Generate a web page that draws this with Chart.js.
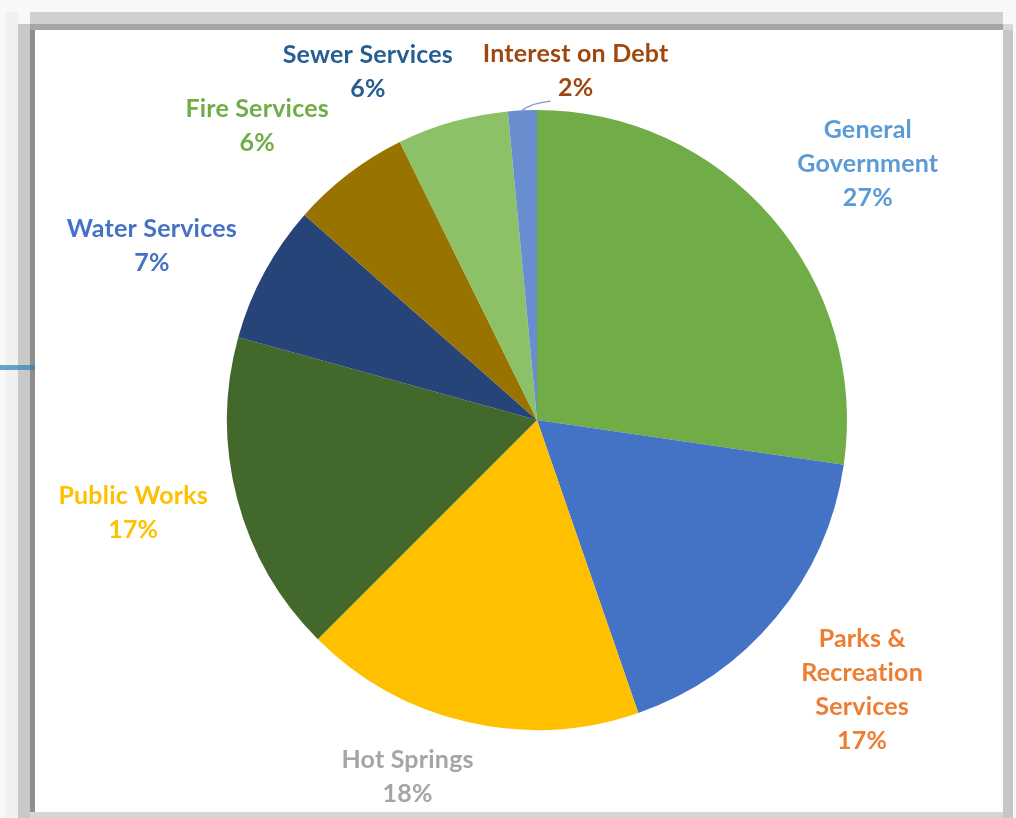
<!DOCTYPE html>
<html>
<head>
<meta charset="utf-8">
<title>Expenditures by Function</title>
<script src="https://cdn.jsdelivr.net/npm/chart.js"></script>
<style>
  body { margin: 0; width: 1016px; height: 818px; overflow: hidden; position: relative; background: #f8f8f8; }
  .band { position: absolute; }
  #panel { position: absolute; left: 35px; top: 30px; width: 968px; height: 782px; background: #fff; }
  #chartWrap { position: absolute; left: 0; top: 0; width: 1016px; height: 818px; }
</style>
</head>
<body>
<!-- frame around the chart panel -->
<div class="band" style="left:6px;top:12px;width:12px;height:806px;background:#f0f0f0"></div>
<div class="band" style="left:18px;top:24px;width:12px;height:794px;background:#c9c9c9"></div>
<div class="band" style="left:30px;top:12px;width:973px;height:12px;background:#d0d0d0"></div>
<div class="band" style="left:30px;top:24px;width:973px;height:6px;background:#a6a6a6"></div>
<div class="band" style="left:30px;top:30px;width:5px;height:782px;background:#8e8e8e"></div>
<div class="band" style="left:1003px;top:24px;width:10px;height:6px;background:#d8d8d8"></div>
<div class="band" style="left:1003px;top:30px;width:10px;height:788px;background:#c6c6c6"></div>
<div class="band" style="left:30px;top:812px;width:973px;height:6px;background:#d6d6d6"></div>
<div class="band" style="left:0;top:365px;width:35px;height:5px;background:rgba(50,130,180,0.72)"></div>
<div id="panel"></div>
<div id="chartWrap"><canvas id="pieChart" width="1016" height="818"></canvas></div>

<script>
const departments = ['General Government', 'Parks & Recreation Services', 'Hot Springs', 'Public Works',
    'Water Services', 'Fire Services', 'Sewer Services', 'Interest on Debt'];
// share of total spending, percent
const spending = [27.3, 17.4, 17.8, 16.8, 7.2, 6.2, 5.8, 1.5];
const labelLines = [['General', 'Government'], ['Parks &', 'Recreation', 'Services'], ['Hot Springs'],
    ['Public Works'], ['Water Services'], ['Fire Services'], ['Sewer Services'], ['Interest on Debt']];

const sliceColors = ['#70AD47', '#4472C4', '#FFC000', '#43682B', '#264478', '#997300', '#8CC168', '#698ED0'];
const labelColors = ['#5B9BD5', '#ED7D31', '#A5A5A5', '#FFC000', '#4472C4', '#70AD47', '#255E91', '#9E480E'];
// [angle nudge in degrees, distance past the rim in px]
const labelPlacement = [[3, 109], [0, 112], [7, 69], [2, 104], [-4, 113], [-6, 97], [-10, 78], [9, 42]];
const lineHeight = 34;

const sliceLabels = {
    id: 'sliceLabels',
    afterDatasetsDraw(chart) {
        const ctx = chart.ctx;
        const arcs = chart.getDatasetMeta(0).data;
        const total = spending.reduce((a, b) => a + b, 0);
        ctx.save();
        ctx.font = 'bold 25px Lato';
        ctx.letterSpacing = '0.2px'; // also keeps "ti" from turning into a ligature
        ctx.textAlign = 'center';
        ctx.textBaseline = 'middle';
        arcs.forEach((arc, i) => {
            const { x, y, startAngle, endAngle, outerRadius } =
                arc.getProps(['x', 'y', 'startAngle', 'endAngle', 'outerRadius'], true);
            const [nudge, gap] = labelPlacement[i];
            const mid = (startAngle + endAngle) / 2;
            const a = mid + nudge * Math.PI / 180;
            const lx = x + Math.cos(a) * (outerRadius + gap);
            const ly = y + Math.sin(a) * (outerRadius + gap);
            const lines = labelLines[i].concat(Math.round(spending[i] / total * 100) + '%');
            const top = ly - (lines.length - 1) * lineHeight / 2 + 1;
            ctx.fillStyle = labelColors[i];
            lines.forEach((t, k) => ctx.fillText(t, lx, top + k * lineHeight));

            // thin slices get a leader line back to the rim
            if (spending[i] / total < 0.03) {
                const ex = x + Math.cos(mid) * outerRadius;
                const ey = y + Math.sin(mid) * outerRadius;
                ctx.strokeStyle = '#8C93C2';
                ctx.lineWidth = 1.5;
                ctx.beginPath();
                ctx.moveTo(ex, ey);
                ctx.quadraticCurveTo(ex + 8, ey - 7, lx - 25, ly + 31);
                ctx.stroke();
            }
        });
        ctx.restore();
    }
};

new Chart(document.getElementById('pieChart').getContext('2d'), {
    type: 'pie',
    data: {
        labels: departments,
        datasets: [{
            data: spending,
            backgroundColor: sliceColors,
            borderWidth: 0
        }]
    },
    options: {
        responsive: false,
        animation: false,
        layout: { padding: { top: 110, bottom: 88, left: 227, right: 169 } },
        plugins: {
            legend: { display: false },
            tooltip: { enabled: false }
        }
    },
    plugins: [sliceLabels]
});
</script>
</body>
</html>
